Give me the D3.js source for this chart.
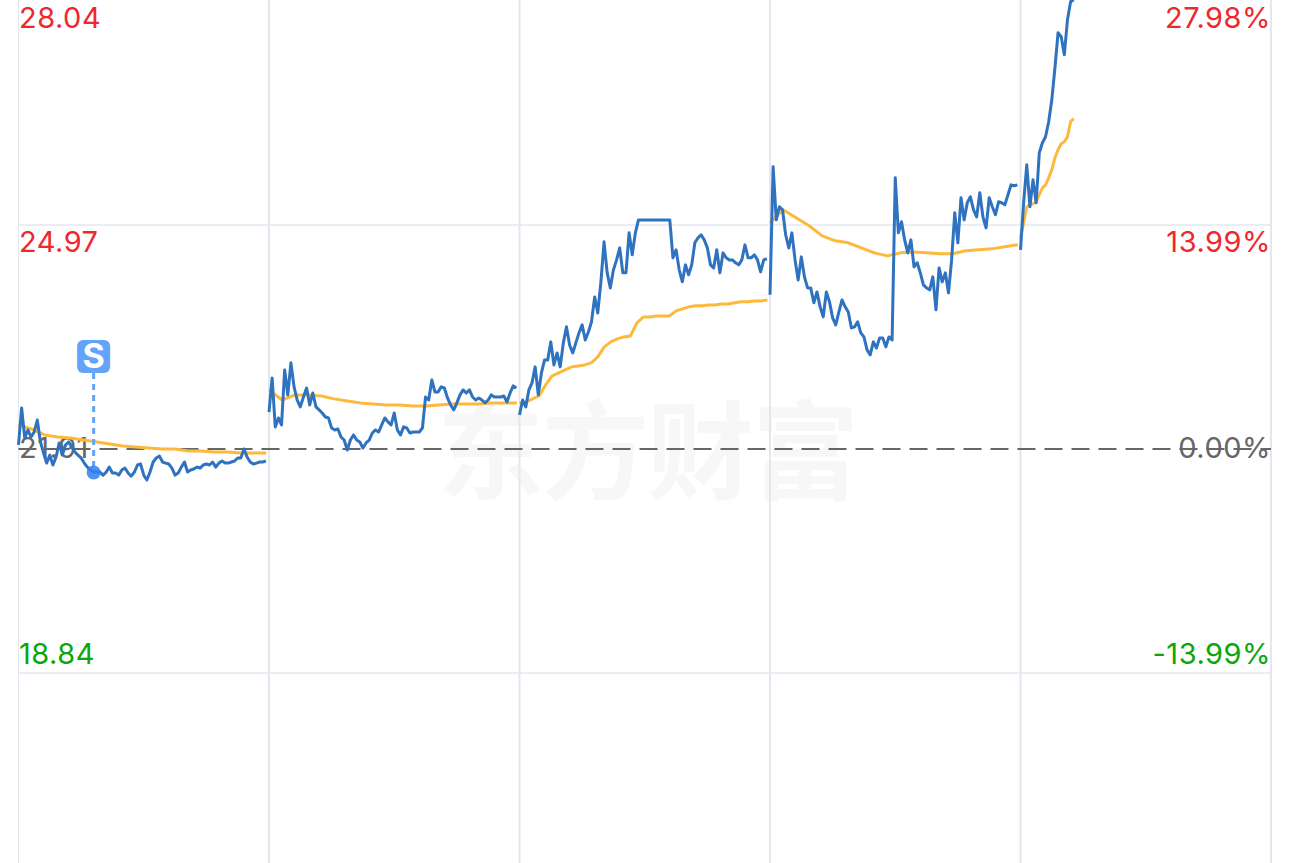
<!DOCTYPE html>
<html>
<head>
<meta charset="utf-8">
<script src="https://cdn.jsdelivr.net/npm/d3@7/dist/d3.min.js"></script>
<style>
  html, body { margin: 0; background: #fff; }
  svg { display: block; }
  text { font-family: Inter, "Liberation Sans", sans-serif; }
</style>
</head>
<body>
<svg id="chart"></svg>
<script>
// Five-day intraday chart: change vs previous close, price (blue) and average (orange).

const pctTicks = [27.98, 13.99, 0, -13.99];
const priceLabels = ["28.04", "24.97", "21.91", "18.84"];
const pctLabels = ["27.98%", "13.99%", "0.00%", "-13.99%"];
const dayTicks = [0, 240, 480, 720, 960, 1200];

// price samples, one every 3 minutes
const priceDay1 = [0.25, 2.56, 0.69, 1.19, 0.75, 1.06, 1.81, 0.44, -0.25, -0.88, -0.38, -1, -0.5, 0.38, -0.38, 0.25, 0.44, 0.13, -0.19, -0.38, -0.56, -0.88, -1.13, -1.31, -1.44, -1.44, -1.44, -1.63, -1.44, -1.13, -1.5, -1.5, -1.63, -1.31, -1.19, -1.5, -1.69, -1.44, -1, -0.94, -1.63, -1.94, -1.44, -0.81, -0.56, -0.44, -0.81, -0.88, -0.94, -1.19, -1.63, -1.5, -1.13, -0.81, -1.44, -1.31, -1.25, -1.13, -1.19, -1, -0.94, -1, -0.81, -1.13, -0.88, -0.75, -0.88, -0.88, -0.81, -0.75, -0.56, -0.56, 0, -0.5, -0.81, -0.94, -0.88, -0.81, -0.81, -0.75];
const priceDay2 = [2.31, 4.44, 1.38, 1.94, 1.5, 4.94, 3.38, 5.38, 3.88, 3.06, 2.63, 3.25, 3.81, 2.75, 3.5, 2.63, 2.44, 2.25, 2, 1.94, 1.31, 1.19, 1.25, 0.75, 0.56, -0.06, 0.56, 0.88, 0.56, 0.44, 0.06, 0.38, 0.56, 1, 1.19, 1.06, 1.5, 1.94, 1.69, 1.5, 2.25, 1.19, 0.88, 1.38, 1.31, 1, 1.06, 1.06, 1.06, 1.31, 3.25, 3.06, 4.31, 3.56, 3.56, 3.88, 3.81, 3.19, 2.75, 2.44, 2.88, 3.38, 3.69, 3.5, 3.69, 3.25, 3.06, 3.19, 3.06, 2.88, 3.06, 3.38, 3.25, 3.25, 3.25, 3.31, 2.94, 3.5, 3.94, 3.81];
const priceDay3 = [2.13, 3.06, 2.63, 3.69, 4.13, 5.13, 3.38, 4.75, 5.56, 5.56, 6.69, 5.25, 6, 5.13, 6.63, 7.63, 6.5, 6, 6.63, 7.25, 7.75, 6.81, 7.31, 7.94, 9.5, 8.5, 10.44, 12.94, 11, 10.06, 11.19, 11.81, 12.56, 11, 11, 13.5, 12.13, 13.5, 14.31, 14.31, 14.31, 14.31, 14.31, 14.31, 14.31, 14.31, 14.31, 14.31, 14.31, 11.94, 12.44, 11.19, 10.44, 11.5, 10.88, 11.5, 12.88, 13.19, 13.38, 13.06, 12.56, 11.5, 11.31, 12.44, 11, 12.25, 11.94, 11.81, 11.81, 11.63, 11.5, 11.81, 12.75, 11.94, 11.94, 12.13, 11.81, 11.06, 11.81, 11.88];
const priceDay4 = [9.63, 17.63, 14.31, 15.13, 14.94, 13.38, 12.56, 13.5, 11.81, 10.56, 12, 10.75, 10.06, 10.06, 9.13, 9.81, 8.88, 8.25, 9.81, 9.19, 8.19, 7.75, 8.56, 9.31, 8.88, 8.56, 7.56, 7.63, 7.94, 7.25, 7, 6.19, 5.88, 6.69, 6.31, 6.94, 6.94, 6.38, 7, 6.81, 16.94, 13.5, 14.19, 13.06, 12.25, 13.06, 11.38, 11.63, 11, 10.25, 10.06, 9.94, 10.75, 8.69, 11.31, 10.44, 11, 9.75, 11.81, 14.75, 12.88, 15.69, 14.31, 15.38, 15.75, 14.94, 14.5, 16, 14.5, 13.81, 15.69, 15.13, 14.63, 15.44, 15.38, 15.25, 15.88, 16.5, 16.44, 16.5];
const priceDay5 = [12.44, 15.38, 17.75, 15.13, 16.81, 15.38, 18.5, 19.13, 19.5, 20.44, 21.81, 23.81, 26, 25.75, 24.63, 26.81, 27.94, 28.06];

// average price samples: 12.5 minutes apart, day 3 every 6.25, day 5 every 3
const avgDay1 = [1.5, 1.25, 0.88, 0.75, 0.69, 0.56, 0.44, 0.31, 0.19, 0.13, 0.06, 0, 0, -0.13, -0.13, -0.19, -0.19, -0.25, -0.25, -0.25];
const avgDay2 = [3.69, 3.06, 3.38, 3.38, 3.31, 3.13, 3, 2.88, 2.81, 2.75, 2.75, 2.69, 2.69, 2.75, 2.81, 2.81, 2.81, 2.88, 2.88, 2.88];
const avgDay3 = [2.88, 2.94, 3.13, 3.31, 4, 4.56, 4.75, 4.94, 5.13, 5.19, 5.25, 5.38, 5.75, 6.38, 6.69, 6.88, 7, 7.06, 7.88, 8.25, 8.25, 8.31, 8.31, 8.31, 8.63, 8.75, 8.88, 8.94, 8.94, 9, 9, 9.06, 9.06, 9.13, 9.19, 9.19, 9.25, 9.25, 9.31];
const avgDay4 = [14.13, 14.94, 14.44, 13.94, 13.31, 13, 12.88, 12.56, 12.25, 12.06, 12.25, 12.31, 12.25, 12.19, 12.19, 12.38, 12.44, 12.5, 12.63, 12.75];
const avgDay5 = [13.19, 14.13, 15.13, 15.25, 15.31, 15.44, 15.88, 16.31, 16.5, 16.94, 17.44, 18.19, 18.69, 19.06, 19.19, 19.5, 20.44, 20.63];

// the one "S" trade marker
const tradeMinute = 72;
const tradePct = -1.44;

const W = 1290, H = 863;
const BLUE = "#2f72c0", ORANGE = "#fdb93c", GRID = "#e4e7f0";
const RED = "#f0282d", GREEN = "#0aa60a", GREY = "#666";

const svg = d3.select("#chart").attr("width", W).attr("height", H);

const x = d3.scaleLinear().domain([0, 1200]).range([18.5, 1271]);
const y = d3.scaleLinear().domain([27.98, -27.98]).range([1, 897]);

// Watermark
svg.append("g").selectAll("text")
  .data(["东", "方", "财", "富"])
  .join("text")
  .attr("x", (d, i) => 437 + i * 105)
  .attr("y", 491)
  .attr("font-size", 107)
  .attr("font-weight", 700)
  .attr("fill", "#f7f7f7")
  .style("font-family", '"Noto Sans CJK SC", sans-serif')
  .text(d => d);

// Grid
svg.append("g").selectAll("line")
  .data(dayTicks)
  .join("line")
  .attr("x1", d => x(d)).attr("x2", d => x(d))
  .attr("y1", 0).attr("y2", H)
  .attr("stroke", GRID)
  .attr("stroke-width", (d, i) => (i === 0 ? 1 : 2));

svg.append("g").selectAll("line")
  .data(pctTicks.filter(d => d !== 0 && d !== pctTicks[0]))
  .join("line")
  .attr("x1", x(0)).attr("x2", x(1200))
  .attr("y1", d => y(d)).attr("y2", d => y(d))
  .attr("stroke", GRID)
  .attr("stroke-width", 1.5);

svg.append("line")
  .attr("x1", x(0)).attr("x2", x(1200))
  .attr("y1", y(0)).attr("y2", y(0))
  .attr("stroke", GREY)
  .attr("stroke-width", 2)
  .attr("stroke-dasharray", "18 9");

// Labels sit under the line above zero, centred on zero, over the line below zero
function labelDy(v) {
  if (v > 0) return 27;
  if (v === 0) return 9;
  return -9;
}
function labelColor(v) {
  if (v > 0) return RED;
  if (v === 0) return GREY;
  return GREEN;
}

svg.append("g").selectAll("text")
  .data(pctTicks)
  .join("text")
  .attr("x", 19)
  .attr("y", d => y(d) + labelDy(d))
  .attr("font-size", 29)
  .attr("letter-spacing", 0.5)
  .attr("fill", labelColor)
  .text((d, i) => priceLabels[i]);

svg.append("g").selectAll("text")
  .data(pctTicks)
  .join("text")
  .attr("x", 1271)
  .attr("y", d => y(d) + labelDy(d))
  .attr("text-anchor", "end")
  .attr("font-size", 29)
  .attr("letter-spacing", 0.5)
  .attr("fill", labelColor)
  .text((d, i) => pctLabels[i]);

// Lines, one path per trading day
function drawDay(values, dayStart, step, color, width) {
  const ln = d3.line()
    .x((d, i) => x(dayStart + i * step))
    .y(d => y(d));
  svg.append("path")
    .datum(values)
    .attr("fill", "none")
    .attr("stroke", color)
    .attr("stroke-width", width)
    .attr("stroke-linejoin", "round")
    .attr("d", ln);
}

drawDay(avgDay1, dayTicks[0], 12.5, ORANGE, 3);
drawDay(avgDay2, dayTicks[1], 12.5, ORANGE, 3);
drawDay(avgDay3, dayTicks[2], 6.25, ORANGE, 3);
drawDay(avgDay4, dayTicks[3], 12.5, ORANGE, 3);
drawDay(avgDay5, dayTicks[4], 3, ORANGE, 3);

[priceDay1, priceDay2, priceDay3, priceDay4, priceDay5].forEach((v, i) => drawDay(v, dayTicks[i], 3, BLUE, 3));

// Trade marker
const tx = x(tradeMinute), ty = y(tradePct);
svg.append("line")
  .attr("x1", tx).attr("x2", tx)
  .attr("y1", 373).attr("y2", ty)
  .attr("stroke", "#63a3fb")
  .attr("stroke-width", 3)
  .attr("stroke-dasharray", "6 5");
svg.append("circle")
  .attr("cx", tx).attr("cy", ty + 0.5)
  .attr("r", 7)
  .attr("fill", "#2f80f0")
  .attr("opacity", 0.85);
svg.append("rect")
  .attr("x", tx - 16.5).attr("y", 340)
  .attr("width", 33).attr("height", 33)
  .attr("rx", 6)
  .attr("fill", "#63a3fb");
svg.append("text")
  .attr("x", tx).attr("y", 368)
  .attr("text-anchor", "middle")
  .attr("font-size", 34)
  .attr("font-weight", 700)
  .attr("fill", "#fff")
  .text("S");
</script>
</body>
</html>
